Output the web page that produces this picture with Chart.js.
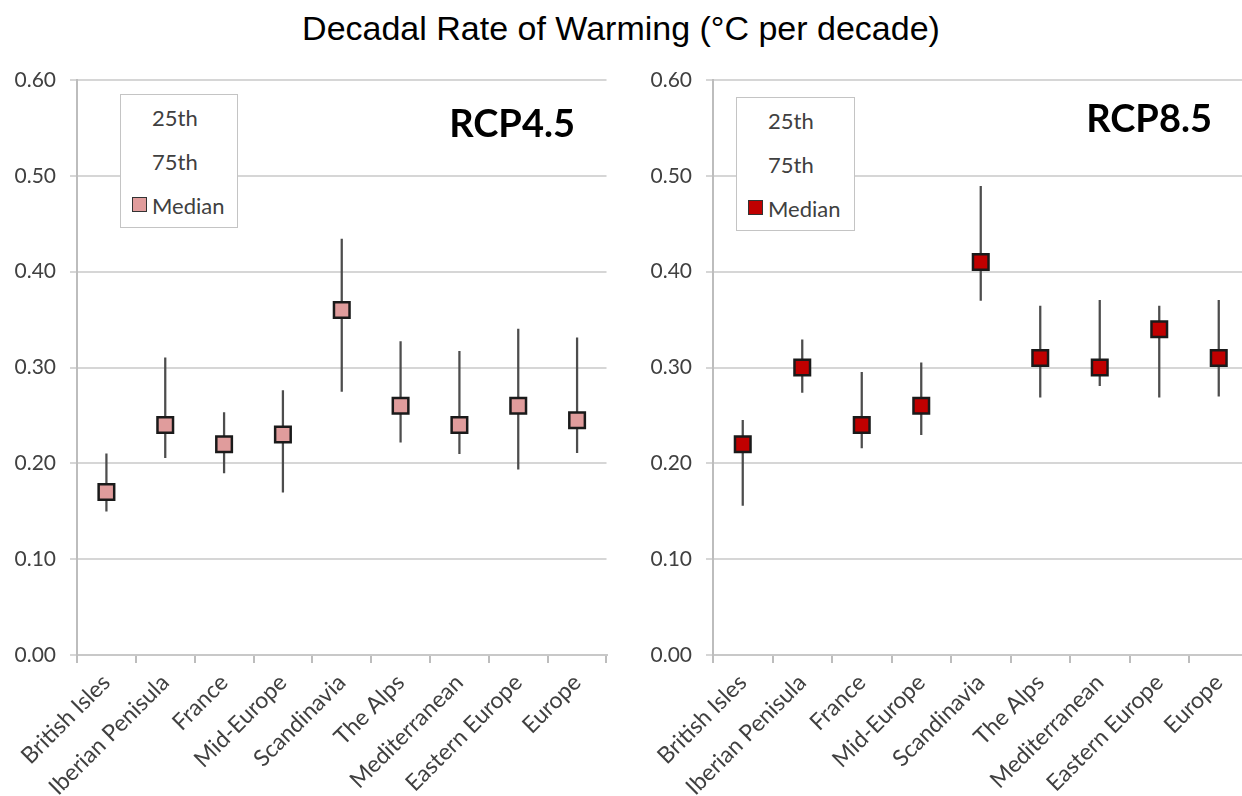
<!DOCTYPE html>
<html>
<head>
<meta charset="utf-8">
<script src="https://cdn.jsdelivr.net/npm/chart.js@4.4.1/dist/chart.umd.min.js"></script>
<style>
  body { margin: 0; width: 1242px; height: 796px; overflow: hidden; background: #fff; position: relative; }
  #title { position: absolute; left: 0; top: 9px; width: 1242px; text-align: center; font: 34px "Liberation Sans", Arial, sans-serif; color: #000; }
  canvas { position: absolute; top: 0; }
  #chartLeft { left: 0; }
  #chartRight { left: 620px; }
  .legend { position: absolute; background: #fff; border: 1.5px solid #c4c4c4; box-sizing: border-box; }
  .legend .item { position: absolute; left: 0; height: 26px; line-height: 26px; font: 22px Lato, sans-serif; color: #404040; white-space: nowrap; }
  .legend .mark { position: absolute; left: 11px; top: 5px; width: 13px; height: 13px; border: 1.5px solid #333; }
  .legend .txt { position: absolute; left: 31px; top: 0; }
  .rcp { position: absolute; font: bold 38px Lato, sans-serif; color: #000; }
</style>
</head>
<body>
<div id="title">Decadal Rate of Warming (°C per decade)</div>
<canvas id="chartLeft" width="620" height="796"></canvas>
<canvas id="chartRight" width="642" height="796"></canvas>

<script>
// regions along the x axis
const regions = ['British Isles', 'Iberian Penisula', 'France', 'Mid-Europe', 'Scandinavia', 'The Alps', 'Mediterranean', 'Eastern Europe', 'Europe'];

// RCP4.5 : 25th / median / 75th percentile (°C per decade)
const rcp45P25 = [0.150, 0.206, 0.190, 0.170, 0.275, 0.222, 0.210, 0.194, 0.211];
const rcp45Median = [0.170, 0.240, 0.220, 0.230, 0.360, 0.260, 0.240, 0.260, 0.245];
const rcp45P75 = [0.210, 0.310, 0.253, 0.276, 0.434, 0.327, 0.317, 0.340, 0.331];

// RCP8.5
const rcp85P25 = [0.156, 0.274, 0.216, 0.230, 0.370, 0.269, 0.281, 0.269, 0.270];
const rcp85Median = [0.220, 0.300, 0.240, 0.260, 0.410, 0.310, 0.300, 0.340, 0.310];
const rcp85P75 = [0.245, 0.329, 0.295, 0.305, 0.489, 0.364, 0.370, 0.364, 0.370];

// y axis
const yMin = 0;
const yMax = 0.6;
const yStep = 0.1;

const legendLabels = ['25th', '75th', 'Median'];

function makeChart(canvasId, p25, median, p75, fill, axisWidth, padRight) {
  const ctx = document.getElementById(canvasId);
  return new Chart(ctx, {
    data: {
      labels: regions,
      datasets: [
        {
          type: 'line',
          label: 'Median',
          data: median,
          showLine: false,
          pointStyle: 'rect',
          pointRadius: 11,
          pointHoverRadius: 11,
          pointBackgroundColor: fill,
          pointBorderColor: '#1a1a1a',
          pointBorderWidth: 2.5,
          order: 0
        },
        {
          type: 'bar',
          label: '25th-75th',
          data: p25.map((v, i) => [v, p75[i]]),
          backgroundColor: '#4d4d4d',
          barThickness: 1.6,
          order: 1
        }
      ]
    },
    options: {
      responsive: false,
      animation: false,
      layout: { padding: { top: 80, right: padRight, left: 0, bottom: 0 } },
      plugins: { legend: { display: false }, tooltip: { enabled: false } },
      scales: {
        x: {
          type: 'category',
          offset: true,
          grid: {
            offset: true,
            color: (c) => c.index === regions.length ? '#c8c8c8' : 'rgba(0,0,0,0)',
            lineWidth: 2,
            tickColor: '#bdbdbd',
            tickLength: 8
          },
          border: { color: '#c8c8c8', width: 2 },
          ticks: {
            autoSkip: false,
            minRotation: 45,
            maxRotation: 45,
            padding: 6,
            color: '#404040',
            font: { family: 'Lato', size: 23 }
          },
          afterFit: (s) => { s.height = 141; }
        },
        y: {
          min: yMin,
          max: yMax,
          grid: { color: '#d6d6d6', lineWidth: 2, tickLength: 7 },
          border: { color: '#bdbdbd', width: 2 },
          ticks: {
            stepSize: yStep,
            padding: 14,
            color: '#404040',
            font: { family: 'Lato', size: 21 },
            callback: (v) => v.toFixed(2)
          },
          afterFit: (s) => { s.width = axisWidth; }
        }
      }
    }
  });
}

function addLegend(left, top, width, height, fill) {
  const box = document.createElement('div');
  box.className = 'legend';
  box.style.left = left + 'px';
  box.style.top = top + 'px';
  box.style.width = width + 'px';
  box.style.height = height + 'px';
  legendLabels.forEach((l, i) => {
    const item = document.createElement('div');
    item.className = 'item';
    item.style.top = (9 + i * 44) + 'px';
    if (l === 'Median') {
      const m = document.createElement('div');
      m.className = 'mark';
      m.style.background = fill;
      item.appendChild(m);
    }
    const t = document.createElement('div');
    t.className = 'txt';
    t.textContent = l;
    item.appendChild(t);
    box.appendChild(item);
  });
  document.body.appendChild(box);
}

function addRcp(text, right, top) {
  const d = document.createElement('div');
  d.className = 'rcp';
  d.textContent = text;
  d.style.right = (1242 - right) + 'px';
  d.style.top = top + 'px';
  document.body.appendChild(d);
}

makeChart('chartLeft', rcp45P25, rcp45Median, rcp45P75, '#e09c9c', 77, 9);
makeChart('chartRight', rcp85P25, rcp85Median, rcp85P75, '#c00000', 93, 4);

addLegend(120, 94, 118, 134, '#e09c9c');
addLegend(736, 97, 119, 134, '#c00000');
addRcp('RCP4.5', 575, 99);
addRcp('RCP8.5', 1212, 94);
</script>
</body>
</html>
